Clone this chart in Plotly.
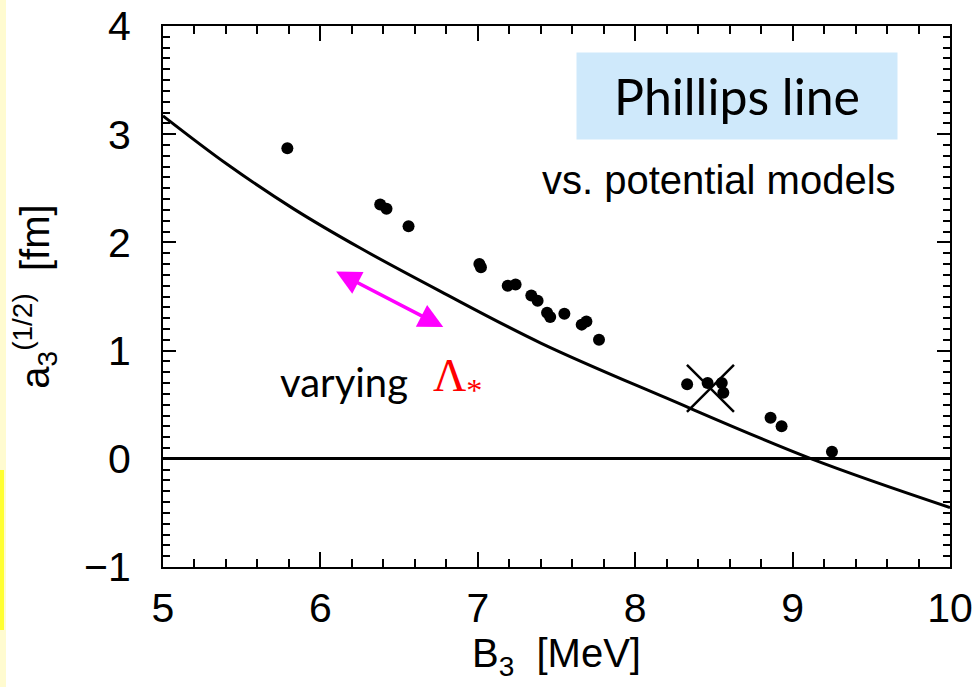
import plotly.graph_objects as go

# --- data ---
model_B3 = [5.79, 6.38, 6.42, 6.56, 7.01, 7.02, 7.19, 7.24, 7.34, 7.38, 7.44, 7.46,
            7.55, 7.66, 7.69, 7.77, 8.33, 8.46, 8.55, 8.56, 8.86, 8.93, 9.25]
model_a3 = [2.87, 2.35, 2.31, 2.15, 1.80, 1.77, 1.60, 1.61, 1.51, 1.46, 1.35, 1.31,
            1.34, 1.24, 1.27, 1.10, 0.69, 0.70, 0.70, 0.61, 0.38, 0.30, 0.065]

phillips_B3 = [5.00, 5.41, 5.83, 6.25, 6.76, 7.40, 8.20, 9.12, 10.00]
phillips_a3 = [3.17, 2.72, 2.31, 1.95, 1.55, 1.07, 0.56, 0.00, -0.45]

cross_B3 = [8.478]
cross_a3 = [0.65]

x_range = [5, 10]
y_range = [-1, 4]

FONT = "Liberation Sans, Arial, sans-serif"
HAND = "Lato, Comic Sans MS, sans-serif"

fig = go.Figure()

fig.add_trace(go.Scatter(x=phillips_B3, y=phillips_a3, mode="lines",
                         line=dict(color="black", width=3, shape="spline", smoothing=1.0),
                         showlegend=False, hoverinfo="skip"))
fig.add_trace(go.Scatter(x=model_B3, y=model_a3, mode="markers",
                         marker=dict(color="black", size=12, symbol="circle"),
                         showlegend=False))
fig.add_trace(go.Scatter(x=cross_B3, y=cross_a3, mode="markers",
                         marker=dict(symbol="x-thin", size=47,
                                     line=dict(color="black", width=2.5)),
                         showlegend=False))

axis_common = dict(
    showline=True, linecolor="black", linewidth=2, mirror="allticks",
    ticks="inside", tickcolor="black", tickwidth=2, automargin=False,
    showgrid=False, tickfont=dict(family=FONT, size=41, color="black"),
)

fig.update_xaxes(range=x_range, tickmode="linear", tick0=5, dtick=1, ticklen=15,
                 minor=dict(tickmode="linear", tick0=5, dtick=0.2, ticks="inside",
                            ticklen=8, tickwidth=2, tickcolor="black", showgrid=False),
                 ticklabelstandoff=4,
                 title=dict(text="B<sub>3</sub>  [MeV]", font=dict(family=FONT, size=40, color="black"),
                            standoff=0),
                 zeroline=False, **axis_common)
fig.update_yaxes(range=y_range, tickmode="linear", tick0=-1, dtick=1, ticklen=13,
                 minor=dict(tickmode="linear", tick0=-1, dtick=0.1, ticks="inside",
                            ticklen=7, tickwidth=2, tickcolor="black", showgrid=False),
                 ticklabelstandoff=22,
                 title=dict(text="a<sub>3</sub><sup>(1/2)</sup>  [fm]",
                            font=dict(family=FONT, size=40, color="black"), standoff=22),
                 zeroline=True, zerolinecolor="black", zerolinewidth=2.5, **axis_common)

# annotations
fig.add_annotation(x=8.647, y=3.355, xref="x", yref="y", text="Phillips line",
                   showarrow=False, bgcolor="#cfe9fb", width=318, height=84,
                   font=dict(family=HAND, size=50, color="black"))
fig.add_annotation(x=8.53, y=2.58, xref="x", yref="y", text="vs. potential models",
                   showarrow=False, font=dict(family=FONT, size=40, color="black"))
fig.add_annotation(x=6.15, y=0.71, xref="x", yref="y", text="varying",
                   showarrow=False, font=dict(family=HAND, size=40, color="black"))
fig.add_annotation(x=6.87, y=0.74, xref="x", yref="y",
                   text="Λ<sub>*</sub>",
                   showarrow=False, font=dict(family="Liberation Serif, Times New Roman, serif",
                                              size=46, color="#ff0000"))
fig.add_annotation(x=6.10, y=1.73, ax=6.79, ay=1.21, xref="x", yref="y", axref="x", ayref="y",
                   text="", showarrow=True, arrowside="end+start", arrowhead=2,
                   arrowsize=1.4, arrowwidth=3.5, arrowcolor="#ff00ff")

# yellow slide edge on the left
fig.add_shape(type="rect", xref="paper", yref="paper", x0=-163/787, x1=-157/787,
              y0=-120/541, y1=26/541 + 1, fillcolor="#fffbd0", line_width=0, layer="below")
fig.add_shape(type="rect", xref="paper", yref="paper", x0=-163/787, x1=-159/787,
              y0=(567-630)/541, y1=(567-470)/541, fillcolor="#ffff30", line_width=0, layer="below")

fig.update_layout(width=973, height=687, margin=dict(l=163, r=23, t=26, b=120),
                  paper_bgcolor="white", plot_bgcolor="white")

fig.write_html("out.html")
